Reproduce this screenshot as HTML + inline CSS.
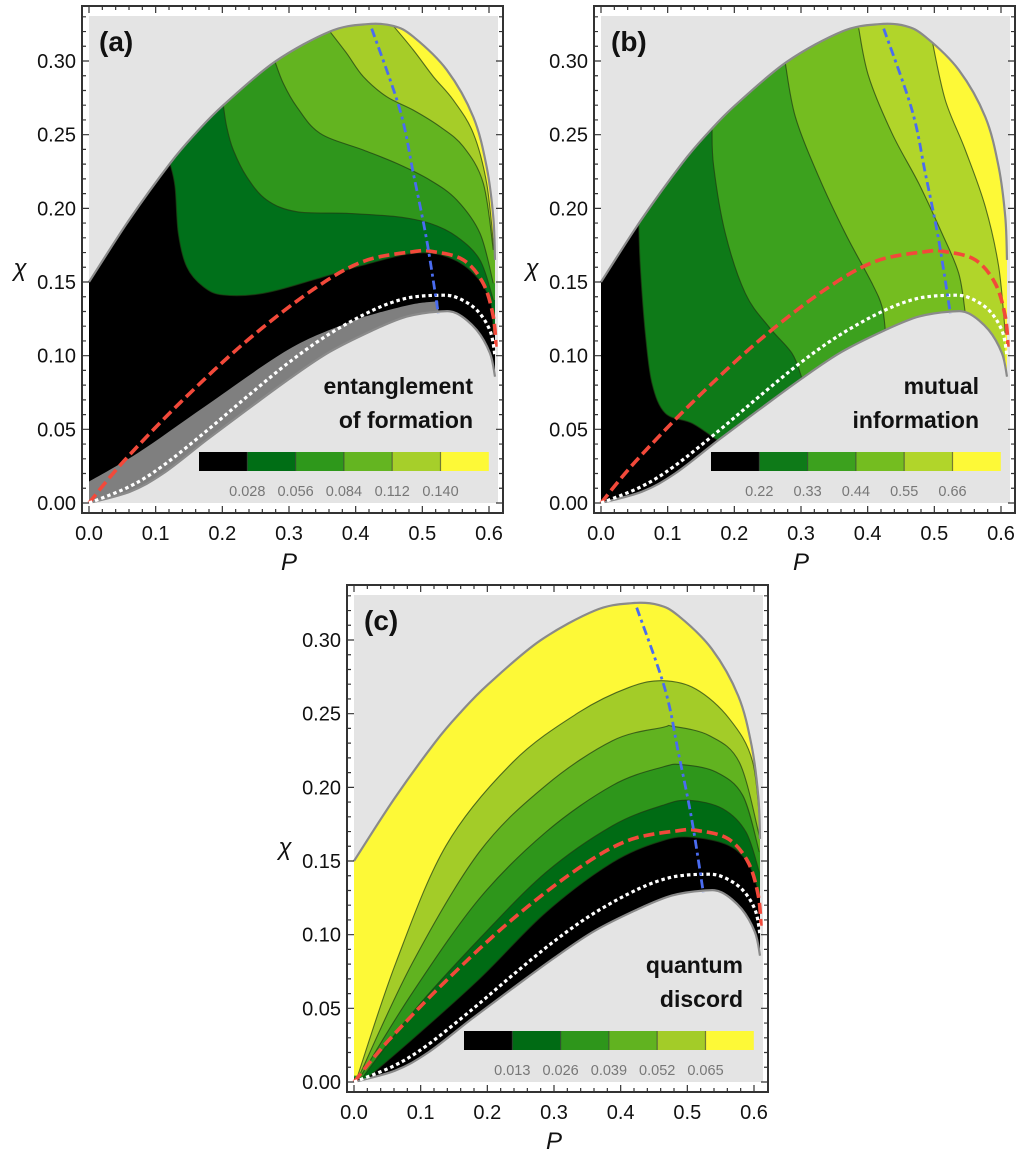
<!DOCTYPE html>
<html><head><meta charset="utf-8"><style>
html,body{margin:0;padding:0;background:#fff}
svg{display:block}
text{font-family:"Liberation Sans",sans-serif}
</style></head><body>
<svg id="fig" width="1024" height="1162" viewBox="0 0 1024 1162" xmlns="http://www.w3.org/2000/svg"></svg>
<script>
// ---- shared data (P, chi) ----
const upperBoundary=[[0,.150],[.06,.192],[.1215,.2305],[.16,.251],[.2015,.270],[.279,.2995],[.3615,.320],[.4165,.325],[.4565,.3238],[.4865,.3165],[.5365,.294],[.5765,.262],[.5965,.228],[.6065,.194],[.609,.165]];
const lowerBoundary=[[0,0],[.0615,.0077],[.1115,.0201],[.1765,.0428],[.2365,.0631],[.3015,.0846],[.3615,.1027],[.4265,.1174],[.4765,.1265],[.524,.1299],[.5515,.1287],[.5815,.1174],[.6015,.1016],[.609,.0857]];
const redCurve=[[0,0],[.0515,.028],[.1365,.068],[.2365,.110],[.3365,.145],[.4115,.164],[.4865,.1706],[.5165,.1706],[.5615,.165],[.5915,.149],[.6065,.1265],[.6105,.106]];
const whiteCurve=[[0,0],[.06,.011],[.11,.025],[.1765,.049],[.2365,.072],[.3015,.096],[.3615,.115],[.4265,.131],[.4765,.139],[.524,.141],[.5515,.1395],[.5815,.131],[.6015,.117],[.609,.10]];
const blueCurve=[[.424,.322],[.4665,.2667],[.4865,.2238],[.5065,.1785],[.524,.1287]];
// (a) entanglement of formation contours
const efL1=[[.1215,.2305],[.129,.2147],[.134,.183],[.1465,.1604],[.1715,.1468],[.2015,.1412],[.2615,.1423],[.3365,.1514],[.4115,.1615],[.4865,.1695],[.5365,.1672],[.5765,.1559],[.6015,.1378],[.6065,.1152]];
const efL2=[[.2015,.2701],[.2065,.2554],[.2165,.2396],[.2365,.2215],[.2665,.2057],[.3115,.1977],[.3865,.1966],[.4615,.1943],[.5115,.1898],[.5515,.1808],[.5865,.1649],[.6065,.1378]];
const efL3=[[.279,.2995],[.2915,.2848],[.3115,.269],[.3465,.2509],[.4115,.2396],[.4615,.2305],[.5115,.2192],[.5515,.2057],[.5865,.183],[.6065,.1491]];
const efL4=[[.3615,.3199],[.3865,.3052],[.4115,.2894],[.4465,.2758],[.4865,.2667],[.5265,.2554],[.5615,.2419],[.5915,.217],[.6065,.1717]];
const efL5=[[.4565,.3238],[.4865,.3075],[.5165,.2894],[.5465,.2735],[.5765,.2509],[.5965,.217],[.6075,.1717]];
const efGrayEdge=[[0,.0145],[.0735,.034],[.1735,.0654],[.2985,.104],[.3865,.122],[.4335,.129],[.4865,.135],[.524,.137]];
// (b) mutual information contours
const miM1=[[.0565,.191],[.059,.1604],[.0665,.1152],[.0765,.0812],[.0965,.0609],[.1365,.0541],[.174,.0428]];
const miM2=[[.1665,.2543],[.169,.2283],[.1865,.183],[.2165,.1423],[.2515,.1197],[.2865,.1016],[.3015,.0846]];
const miM3=[[.2765,.2984],[.2915,.2622],[.3265,.2215],[.3665,.183],[.4065,.1491],[.4215,.1333],[.4265,.1174]];
const miM4=[[.3865,.3222],[.4015,.2894],[.4365,.2509],[.4765,.217],[.5115,.183],[.5365,.1559],[.5465,.1287]];
const miM5=[[.4965,.3143],[.5165,.2735],[.5465,.2396],[.5765,.2011],[.5965,.1604],[.6065,.1152]];
// (c) quantum discord contours
const qdC1=[[.018,.002],[.088,.0292],[.188,.0699],[.288,.1152],[.388,.1491],[.463,.1638],[.508,.1661],[.563,.1604],[.593,.147],[.608,.1267]];
const qdC2=[[.013,.0032],[.088,.0473],[.188,.0971],[.288,.1423],[.388,.174],[.463,.1878],[.503,.1912],[.553,.1855],[.588,.1697],[.608,.1425]];
const qdC3=[[.0105,.0043],[.088,.0609],[.188,.1244],[.288,.1697],[.388,.2014],[.463,.2138],[.493,.2154],[.543,.2104],[.583,.1946],[.608,.1561]];
const qdC4=[[.008,.0043],[.088,.0812],[.188,.1561],[.288,.2014],[.388,.2317],[.463,.2407],[.478,.2414],[.533,.2351],[.578,.217],[.608,.1674]];
const qdC5=[[.0055,.0043],[.063,.0812],[.138,.1604],[.238,.217],[.338,.2511],[.413,.2679],[.463,.2724],[.513,.2667],[.563,.2466],[.598,.2172],[.6105,.1652]];
// ticks & legends
const xTickLabels=["0.0","0.1","0.2","0.3","0.4","0.5","0.6"];
const xTickValues=[0,.1,.2,.3,.4,.5,.6];
const yTickLabels=["0.00","0.05","0.10","0.15","0.20","0.25","0.30"];
const yTickValues=[0,.05,.1,.15,.2,.25,.3];
const efBarLabels=["0.028","0.056","0.084","0.112","0.140"];
const miBarLabels=["0.22","0.33","0.44","0.55","0.66"];
const qdBarLabels=["0.013","0.026","0.039","0.052","0.065"];

const NS="http://www.w3.org/2000/svg";
const svg=document.getElementById('fig');
function X(p){return 89+p*666.67;}
function Y(c){return 503-c*1473.3;}
function el(tag,attrs,parent){const e=document.createElementNS(NS,tag);for(const k in attrs)e.setAttribute(k,attrs[k]);(parent||svg).appendChild(e);return e;}
function smooth(pts,move){
  const q=pts.map(d=>[X(d[0]),Y(d[1])]);
  let s=(move?'M':'L')+q[0][0].toFixed(1)+','+q[0][1].toFixed(1);
  for(let i=0;i<q.length-1;i++){
    const p0=q[Math.max(i-1,0)],p1=q[i],p2=q[i+1],p3=q[Math.min(i+2,q.length-1)];
    const c1=[p1[0]+(p2[0]-p0[0])/6,p1[1]+(p2[1]-p0[1])/6];
    const c2=[p2[0]-(p3[0]-p1[0])/6,p2[1]-(p3[1]-p1[1])/6];
    s+='C'+c1[0].toFixed(1)+','+c1[1].toFixed(1)+' '+c2[0].toFixed(1)+','+c2[1].toFixed(1)+' '+p2[0].toFixed(1)+','+p2[1].toFixed(1);
  }
  return s;
}
function L(p,c){return 'L'+X(p).toFixed(1)+','+Y(c).toFixed(1);}
const regionPath=smooth(upperBoundary,true)+smooth(lowerBoundary.slice().reverse(),false)+'Z';

function panel(id,dx,dy,opts){
  const g=el('g',{transform:'translate('+dx+','+dy+')'});
  
  
  const bg=el('rect',{x:89,y:16,width:409,height:487,fill:'#e4e4e4'},g);
  
  
  const cp=el('clipPath',{id:'clip-'+id},g);
  el('path',{d:regionPath},cp);
  const fills=el('g',{'clip-path':'url(#clip-'+id+')'},g);
  
  
  const base=el('path',{d:regionPath,fill:opts.baseColor},fills);
  
  
  opts.contours.forEach((ct,i)=>{
    const f=ct.pts[0],l=ct.pts[ct.pts.length-1];
    let d;
    if(opts.mode==='right'){d=smooth(ct.pts,true)+L(0.75,l[1])+L(0.75,0.45)+L(f[0],0.45)+'Z';}
    else if(opts.mode==='rightDown'){d=smooth(ct.pts,true)+L(l[0],-0.05)+L(0.75,-0.05)+L(0.75,0.45)+L(f[0],0.45)+'Z';}
    else {d=smooth(ct.pts,true)+L(0.75,l[1])+L(0.75,-0.05)+L(-0.05,-0.05)+L(-0.05,f[1])+'Z';}
    const p=el('path',{d:d,fill:ct.color},fills);
    
    
  });
  if(opts.grayEdge){
    const ge=opts.grayEdge,last=ge[ge.length-1];
    const p=el('path',{d:smooth(ge,true)+L(last[0],-0.05)+L(-0.05,-0.05)+L(-0.05,ge[0][1])+'Z',fill:'#7f7f7f'},fills);
    
    
  }
  opts.contours.forEach((ct,i)=>{
    const p=el('path',{d:smooth(ct.pts,true),fill:'none',stroke:'#1e3a12',"stroke-opacity":0.7,"stroke-width":1.1},fills);
    
    
  });
  const ub=el('path',{d:smooth(upperBoundary,true),fill:'none',stroke:'#8a8a8a','stroke-width':2.2},g);
  
  
  const lb=el('path',{d:smooth(lowerBoundary,true),fill:'none',stroke:'#8a8a8a','stroke-width':2.2},g);
  
  
  const rc=el('path',{d:smooth(redCurve,true),fill:'none',stroke:'#f2493a','stroke-width':3.6,'stroke-dasharray':'11,5'},g);
  
  
  const wc=el('path',{d:smooth(whiteCurve,true),fill:'none',stroke:'#ffffff','stroke-width':3.2,'stroke-dasharray':'3.5,3'},g);
  
  
  const bc=el('path',{d:smooth(blueCurve,true),fill:'none',stroke:'#4a6cf0','stroke-width':2.8,'stroke-dasharray':'9,4,3,4'},g);
  
  
  const fr=el('rect',{x:82,y:6,width:421,height:507,fill:'none',stroke:'#333','stroke-width':2},g);
  
  
  let tk='';
  for(let i=0;i<=32;i++){const v=i*0.02;const x=X(v);if(x>502)break;const len=(i%5===0)?7:4;tk+='M'+x+',513v-'+len+'M'+x+',6v'+len;}
  for(let i=0;i<=34;i++){const v=i*0.01;const y=Y(v);if(y<7)break;const len=(i%5===0)?7:4;tk+='M82,'+y+'h'+len+'M503,'+y+'h-'+len;}
  const t=el('path',{d:tk,stroke:'#333','stroke-width':1.2,fill:'none'},g);
  
  
  xTickValues.forEach((v,i)=>{const tx=el('text',{x:X(v),y:540,'text-anchor':'middle','font-size':20,fill:'#111'},g);tx.textContent=xTickLabels[i];
    
    });
  yTickValues.forEach((v,i)=>{const tx=el('text',{x:76,y:Y(v)+7,'text-anchor':'end','font-size':20,fill:'#111'},g);tx.textContent=yTickLabels[i];
    
    });
  const xt=el('text',{x:289,y:570,'text-anchor':'middle','font-size':24,'font-style':'italic','font-family':'Liberation Serif, serif',fill:'#111'},g);xt.textContent='P';
  
  
  const yt=el('text',{x:20,y:276,'text-anchor':'middle','font-size':24,'font-style':'italic','font-family':'Liberation Serif, serif',fill:'#111'},g);yt.textContent='χ';
  
  
  const pl=el('text',{x:99,y:51,'font-size':28,'font-weight':'bold',fill:'#111'},g);pl.textContent='('+id+')';
  
  
  opts.title.forEach((s,i)=>{const tx=el('text',{x:opts.titleX,y:394+i*34,'text-anchor':'end','font-size':23,'font-weight':'bold',fill:'#111'},g);tx.textContent=s;
    
    });
  const cw=48.3;
  opts.barColors.forEach((c,i)=>{const r=el('rect',{x:199+i*cw,y:452,width:cw,height:19,fill:c},g);
    
    });
  let sep='';for(let i=1;i<6;i++)sep+='M'+(199+i*cw)+',452v19';
  el('path',{d:sep,stroke:'#333','stroke-opacity':0.6,'stroke-width':1.2},g);
  opts.barLabels.forEach((s,i)=>{const tx=el('text',{x:199+(i+1)*cw,y:496,'text-anchor':'middle','font-size':14.5,fill:'#777'},g);tx.textContent=s;
    
    });
}
panel('a',0,0,{mode:'right',baseColor:'#000',
  contours:[{pts:efL1,color:'#00701a'},{pts:efL2,color:'#2f961c'},{pts:efL3,color:'#63b420'},{pts:efL4,color:'#a6cd28'},{pts:efL5,color:'#fdf937'}],
  grayEdge:efGrayEdge,title:['entanglement','of formation'],titleX:473,
  barColors:['#000','#006e15','#2e981b','#64b521','#a6cf2a','#fdf937'],barLabels:efBarLabels});
panel('b',512,0,{mode:'rightDown',baseColor:'#000',
  contours:[{pts:miM1,color:'#0e7a18'},{pts:miM2,color:'#3ca11e'},{pts:miM3,color:'#74bd20'},{pts:miM4,color:'#b1d52a'},{pts:miM5,color:'#fdf937'}],
  title:['mutual','information'],titleX:467,
  barColors:['#000','#0e7a18','#3ca11e','#74bd20','#b1d52a','#fdf937'],barLabels:miBarLabels});
panel('c',265,579,{mode:'below',baseColor:'#fdf937',
  contours:[{pts:qdC5,color:'#a3cc28'},{pts:qdC4,color:'#61b320'},{pts:qdC3,color:'#2e961b'},{pts:qdC2,color:'#006b14'},{pts:qdC1,color:'#000'}],
  title:['quantum','discord'],titleX:478,
  barColors:['#000','#006b14','#2e961b','#61b320','#a3cc28','#fdf937'],barLabels:qdBarLabels});
</script>
</body></html>
